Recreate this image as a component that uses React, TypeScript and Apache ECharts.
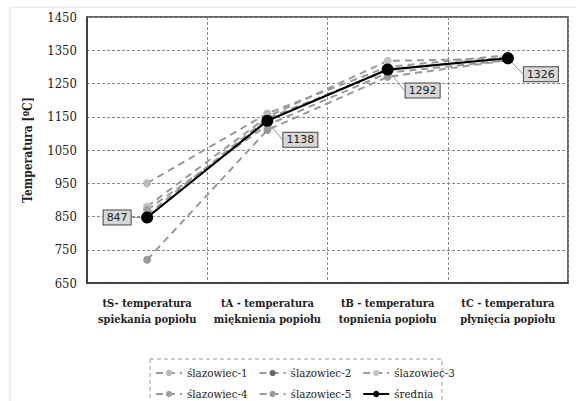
import React, { useEffect, useRef } from "react";
import * as echarts from "echarts";

const categories = [
  "tS- temperatura\nspiekania popiołu",
  "tA - temperatura\nmięknienia popiołu",
  "tB - temperatura\ntopnienia popiołu",
  "tC - temperatura\npłynięcia popiołu",
];
const yTicks = { min: 650, max: 1450, interval: 100 };
const slazowiec1 = [950, 1160, 1300, 1335];
const slazowiec2 = [855, 1145, 1290, 1330];
const slazowiec3 = [880, 1150, 1318, 1325];
const slazowiec4 = [870, 1125, 1282, 1320];
const slazowiec5 = [720, 1110, 1270, 1320];
const srednia = [847, 1138, 1292, 1326];

const seriesNames = ["ślazowiec-1", "ślazowiec-2", "ślazowiec-3", "ślazowiec-4", "ślazowiec-5", "średnia"];
const seriesData = [slazowiec1, slazowiec2, slazowiec3, slazowiec4, slazowiec5, srednia];
const seriesColors = ["#b8b8b8", "#6a6a6a", "#c4c4c4", "#a0a0a0", "#9a9a9a", "#000000"];

const labelShifts = [
  [-30, 0],
  [33, 19],
  [35, 21],
  [33, 16],
];

export default function App() {
  const ref = useRef<HTMLDivElement>(null);
  useEffect(() => {
    if (!ref.current) return;
    const chart = echarts.init(ref.current, undefined, { renderer: "svg" });
    const serif = "DejaVu Serif Condensed";
    const series: any[] = seriesData.map((d, i) => {
      const isMean = i === 5;
      return {
        name: seriesNames[i],
        type: "line",
        data: d,
        symbol: "circle",
        symbolSize: isMean ? 12 : 8,
        z: isMean ? 10 : 2,
        lineStyle: isMean
          ? { color: "#000", width: 2.2, type: "solid" }
          : { color: "#9a9a9a", width: 2, type: [7, 5] },
        itemStyle: { color: seriesColors[i] },
        label: isMean
          ? {
              show: true,
              position: "inside",
              formatter: "{c}",
              fontFamily: "DejaVu Sans",
              fontSize: 11,
              color: "#222",
              backgroundColor: "#d8d8d8",
              borderColor: "#444",
              borderWidth: 1,
              padding: [2, 3, 1, 3],
            }
          : { show: false },
        labelLine: isMean ? { show: true, lineStyle: { color: "#999", width: 1 } } : undefined,
        labelLayout: isMean
          ? (params: any) => {
              const s = labelShifts[params.dataIndex] || [0, 0];
              return { dx: s[0], dy: s[1] };
            }
          : undefined,
      };
    });
    const legendCommon = {
      left: 150,
      itemWidth: 26,
      itemHeight: 8,
      itemGap: 11,
      textStyle: { fontFamily: serif, fontSize: 11.5, color: "#222" },
    };
    chart.setOption({
      animation: false,
      backgroundColor: "#fff",
      graphic: [
        {
          type: "rect",
          shape: { x: 10, y: 7, width: 580, height: 420 },
          style: { fill: "none", stroke: "#e2e2e2", lineWidth: 1 },
          silent: true,
        },
        {
          type: "rect",
          shape: { x: 150, y: 359, width: 292, height: 60 },
          style: { fill: "none", stroke: "#999", lineWidth: 1, lineDash: [4, 3] },
          silent: true,
        },
      ],
      legend: [
        { ...legendCommon, top: 362, data: seriesNames.slice(0, 3) },
        { ...legendCommon, top: 383, data: seriesNames.slice(3) },
      ],
      grid: {
        left: 87,
        right: 8,
        top: 17,
        bottom: 118,
        show: true,
        borderColor: "#333",
        borderWidth: 1.5,
        backgroundColor: "transparent",
      },
      xAxis: {
        type: "category",
        data: categories,
        boundaryGap: true,
        axisLine: { lineStyle: { color: "#333", width: 1.5 } },
        axisTick: { show: false },
        splitLine: { show: true, lineStyle: { color: "#888", type: [3, 2], width: 1 } },
        axisLabel: {
          fontFamily: serif,
          fontWeight: "bold",
          fontSize: 11,
          color: "#222",
          lineHeight: 16,
          margin: 12,
          interval: 0,
        },
      },
      yAxis: {
        type: "value",
        min: yTicks.min,
        max: yTicks.max,
        interval: yTicks.interval,
        name: "Temperatura [ºC]",
        nameLocation: "middle",
        nameGap: 53,
        nameTextStyle: { fontFamily: serif, fontWeight: "bold", fontSize: 12, color: "#222" },
        axisLine: { show: true, lineStyle: { color: "#333", width: 1.5 } },
        axisTick: { show: false },
        splitLine: { show: true, lineStyle: { color: "#888", type: [3, 2], width: 1 } },
        axisLabel: {
          fontFamily: serif,
          fontSize: 13,
          color: "#222",
          margin: 10,
          formatter: (v: number) => String(v),
        },
      },
      series,
    });
    return () => chart.dispose();
  }, []);
  return <div ref={ref} style={{ width: 576, height: 401, position: "absolute", left: 0, top: 0 }} />;
}
